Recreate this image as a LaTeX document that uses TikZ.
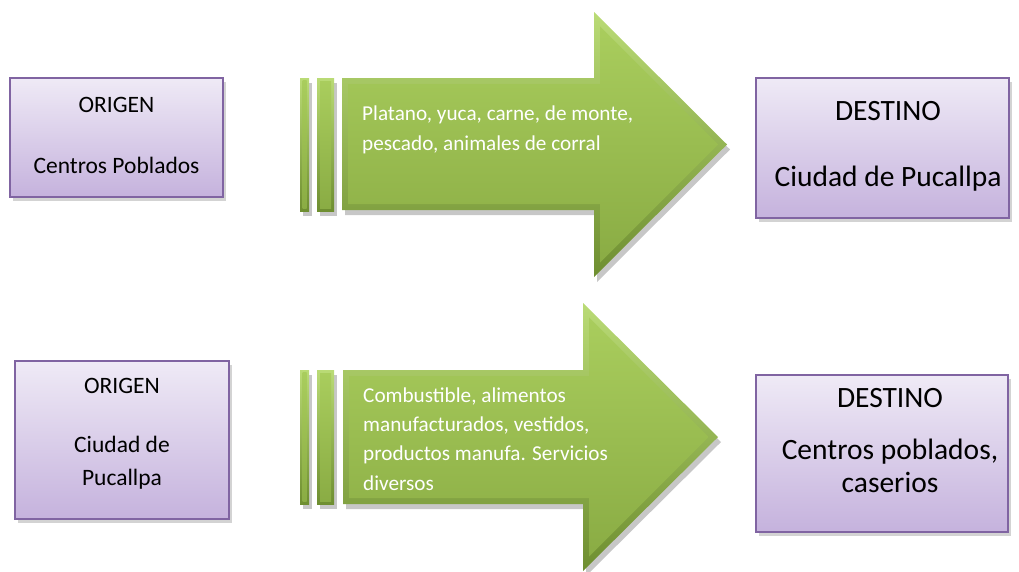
\documentclass[tikz,border=0pt]{standalone}
\usepackage{fontspec}
\setmainfont{Carlito}
\usetikzlibrary{shadows}
\definecolor{boxtop}{HTML}{EFEAF6}
\definecolor{boxbot}{HTML}{C5B2DD}
\definecolor{boxline}{HTML}{8064A2}
\definecolor{arrlight}{HTML}{BADB76}
\definecolor{arrdark}{HTML}{6E8E30}
\definecolor{arrtop}{HTML}{A9CD5D}
\definecolor{arrbot}{HTML}{8AAC44}
\begin{document}
\begin{tikzpicture}[x=1pt,y=-1pt,
  infobox/.style={draw=boxline, line width=1.5pt, top color=boxtop, bottom color=boxbot, inner sep=0pt,
    drop shadow={shadow xshift=3pt, shadow yshift=-4pt, opacity=0.35}},
  smalltext/.style={font=\fontsize{23.5}{31}\selectfont, align=center, text=black, inner sep=0pt},
  bigtext/.style={font=\fontsize{29.5}{33}\selectfont, align=center, text=black, inner sep=0pt},
  arrowtext/.style={font=\fontsize{21.2}{30}\selectfont, align=left, text=white, anchor=west, inner sep=0pt},
  bevelouter/.style={top color=arrlight, bottom color=arrdark, draw=none},
  bevelinner/.style={top color=arrtop, bottom color=arrbot, draw=none},
  arrowshadow/.style={fill=black, opacity=0.22}
]
\useasboundingbox (0,0) rectangle (1019,571);

% ---------- top row ----------
\node[infobox, minimum width=213pt, minimum height=119pt] (o1) at (116.5,137.5) {};
\node[smalltext] (o1t) at (116.5,135.5) {ORIGEN\\[30pt]Centros Poblados};

% arrow 1 shadow
\begin{scope}[shift={(3,5)}]
  \fill[arrowshadow] (300,78) rectangle (309,211);
  \fill[arrowshadow] (317,78) rectangle (334,211);
  \fill[arrowshadow] (342,78) -- (594,78) -- (594,12) -- (727,144.5) -- (594,277) -- (594,210) -- (342,210) -- cycle;
\end{scope}
% bars
\path[bevelouter] (300,78) rectangle (309,211);
\path[bevelinner] (302.5,80.5) rectangle (306.5,208.5);
\path[bevelouter] (317,78) rectangle (334,211);
\path[bevelinner] (320,81) rectangle (331,208);
% body + head
\path[bevelouter] (342,78) -- (594,78) -- (594,12) -- (727,144.5) -- (594,277) -- (594,210) -- (342,210) -- cycle;
\path[bevelinner] (348,84) -- (600,84) -- (600,26.5) -- (718,144.5) -- (600,262.5) -- (600,204) -- (348,204) -- cycle;
\node[arrowtext] (a1t) at (362,130) {Platano, yuca, carne, de monte,\\pescado, animales de corral};

\node[infobox, minimum width=253pt, minimum height=140pt] (d1) at (882.5,148) {};
\node[bigtext] (d1t) at (888,146.5) {DESTINO\\[33pt]Ciudad de Pucallpa};

% ---------- bottom row ----------
\node[infobox, minimum width=214pt, minimum height=158pt] (o2) at (122,440) {};
\node[smalltext] (o2t) at (122,433.5) {ORIGEN\\[28pt]Ciudad de\\[2pt]Pucallpa};

% arrow 2 shadow
\begin{scope}[shift={(3,5)}]
  \fill[arrowshadow] (300,370) rectangle (309,504);
  \fill[arrowshadow] (317,370) rectangle (334,504);
  \fill[arrowshadow] (343,370) -- (583,370) -- (583,303) -- (718,437) -- (583,571) -- (583,504) -- (343,504) -- cycle;
\end{scope}
\path[bevelouter] (300,370) rectangle (309,504);
\path[bevelinner] (302.5,372.5) rectangle (306.5,501.5);
\path[bevelouter] (317,370) rectangle (334,504);
\path[bevelinner] (320,373) rectangle (331,501);
\path[bevelouter] (343,370) -- (583,370) -- (583,303) -- (718,437) -- (583,571) -- (583,504) -- (343,504) -- cycle;
\path[bevelinner] (349,376) -- (589,376) -- (589,317.5) -- (708.5,437) -- (589,556.5) -- (589,498) -- (349,498) -- cycle;
\node[arrowtext, font=\fontsize{21.2}{29.3}\selectfont] (a2t) at (363,439) {Combustible, alimentos\\manufacturados, vestidos,\\productos manufa. Servicios\\diversos};

\node[infobox, minimum width=252pt, minimum height=157pt] (d2) at (882,453.5) {};
\node[bigtext] (d2t) at (890,440.5) {DESTINO\\[19pt]Centros poblados,\\caserios};
\end{tikzpicture}
\end{document}
